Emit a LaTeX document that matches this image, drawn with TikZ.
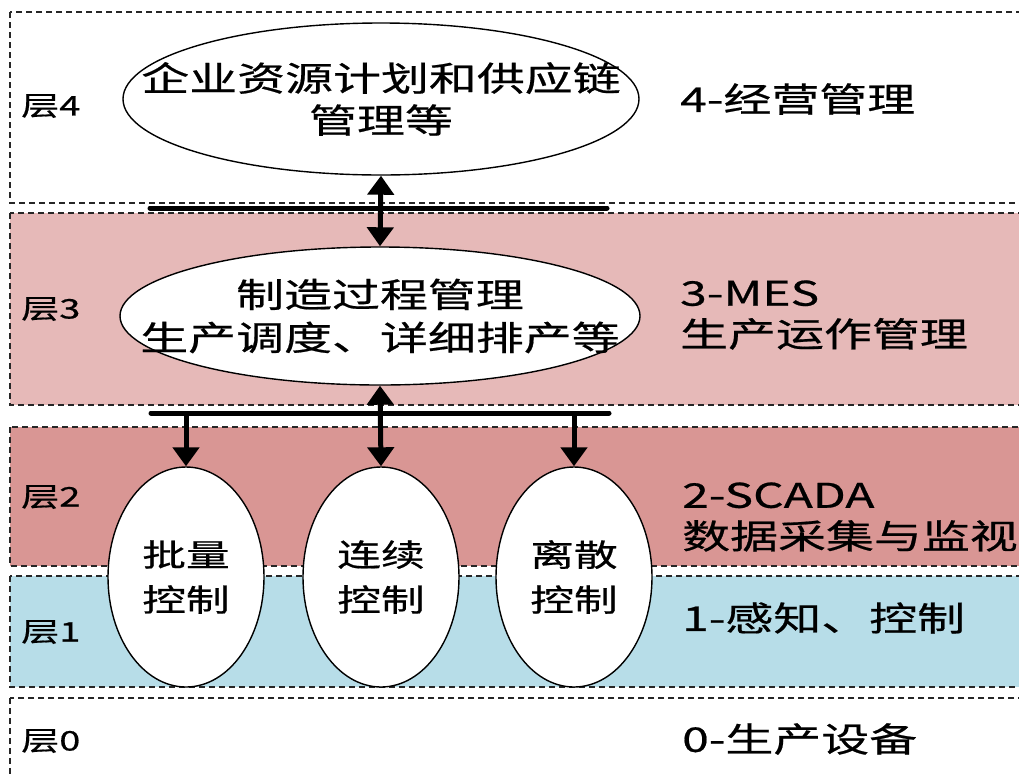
\documentclass[tikz,border=0pt]{standalone}
\usepackage{fontspec}
\setmainfont{Noto Sans CJK SC}[FakeStretch=1.41, FakeBold=0.6]
\usetikzlibrary{shapes.geometric,arrows.meta}
\definecolor{cthree}{HTML}{E6B9B8}
\definecolor{ctwo}{HTML}{D99694}
\definecolor{cone}{HTML}{B7DDE8}
\begin{document}
\begin{tikzpicture}[x=1pt,y=-1pt,
  layer/.style={draw=black!85, dash pattern=on 6pt off 4pt, line width=1.2pt},
  ell/.style={ellipse, draw, line width=1.4pt, fill=white, inner sep=0pt},
  bigtxt/.style={font=\fontsize{34}{42}\selectfont, align=center, inner sep=0pt},
  smalltxt/.style={font=\fontsize{31}{45}\selectfont, align=center, inner sep=0pt},
  sidetxt/.style={font=\fontsize{34}{41}\selectfont, align=left, anchor=west, inner sep=0pt},
  laytxt/.style={font=\fontsize{27}{30}\selectfont, anchor=west, inner sep=0pt},
  bus/.style={line width=5pt, line cap=round},
  arr/.style={line width=5pt, arrows={-Triangle[width=26pt,length=19pt]}},
  darr/.style={line width=5pt, arrows={Triangle[width=26pt,length=19pt]-Triangle[width=26pt,length=19pt]}}
]
\useasboundingbox (0,0) rectangle (1019,777);
\begin{scope}
\clip (0,0) rectangle (1019,777);
\path[layer, fill=white] (10,12) rectangle (1040,203);
\path[layer, fill=cthree] (10,213) rectangle (1040,405);
\path[layer, fill=ctwo] (10,427) rectangle (1040,566);
\path[layer, fill=cone] (10,576) rectangle (1040,687);
\path[layer, fill=white] (10,698) rectangle (1040,800);
\end{scope}

% layer labels
\node[laytxt] (l4) at (21,106) {层4};
\node[laytxt] (l3) at (21,309) {层3};
\node[laytxt] (l2) at (21,497) {层2};
\node[laytxt] (l1) at (21,632) {层1};
\node[laytxt] (l0) at (21,741) {层0};

% side labels
\node[sidetxt] (s4) at (680,99) {4-经营管理};
\node[sidetxt] (s3) at (680,315) {3-MES\\生产运作管理};
\node[sidetxt] (s2) at (682,517) {2-SCADA\\数据采集与监视};
\node[sidetxt] (s1) at (682,618) {1-感知、控制};
\node[sidetxt] (s0) at (682,739) {0-生产设备};

% buses
\coordinate (tbL) at (150,208);
\coordinate (tbR) at (607,208);
\coordinate (bbL) at (151,413);
\coordinate (bbR) at (609,413);
\draw[bus] (tbL) -- (tbR);
\draw[bus] (bbL) -- (bbR);

% ellipses
\node[ell, minimum width=516pt, minimum height=152pt] (erp) at (381,99) {};
\node[bigtxt] (erpt) at (erp.center) {企业资源计划和供应链\\管理等};
\node[ell, minimum width=520pt, minimum height=138pt] (mes) at (380,316) {};
\node[bigtxt, font=\fontsize{34}{43}\selectfont] (mest) at (mes.center) {制造过程管理\\生产调度、详细排产等};
\node[ell, minimum width=156pt, minimum height=220pt] (e1) at (186,577) {};
\node[ell, minimum width=156pt, minimum height=220pt] (e2) at (381,577) {};
\node[ell, minimum width=156pt, minimum height=220pt] (e3) at (574,577) {};
\node[smalltxt] (e1t) at (e1.center) {批量\\控制};
\node[smalltxt] (e2t) at (e2.center) {连续\\控制};
\node[smalltxt] (e3t) at (e3.center) {离散\\控制};

% arrows
\coordinate (b1) at (e1.north |- bbL);
\coordinate (b3) at (e3.north |- bbL);
\draw[darr] (erp.south) -- (mes.north);
\draw[arr] (b1) -- (e1.north);
\draw[darr] (mes.south) -- (e2.north);
\draw[arr] (b3) -- (e3.north);
\end{tikzpicture}
\end{document}
